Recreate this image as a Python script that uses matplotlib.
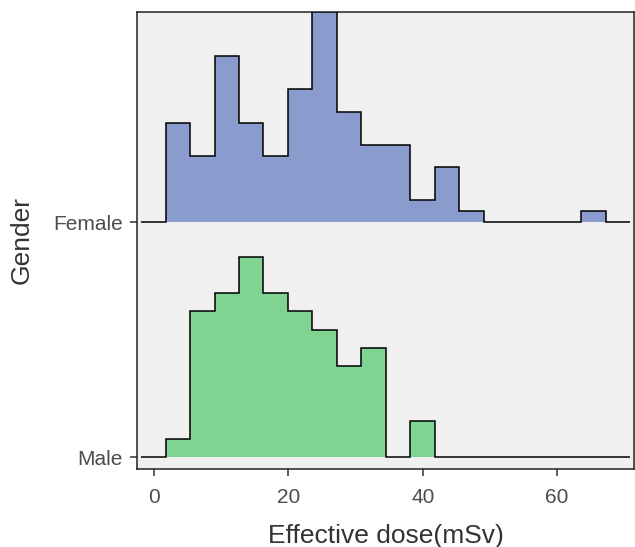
import numpy as np
import matplotlib
matplotlib.use('Agg')
import matplotlib.pyplot as plt

plt.rcParams['font.family'] = ['Liberation Sans', 'DejaVu Sans']

# bin edges of the histogram (mSv)
edges = np.linspace(-1.94, 70.9, 21)

# counts per bin
female_counts = [0, 9, 6, 15, 9, 6, 12, 19, 10, 7, 7, 2, 5, 1, 0, 0, 0, 0, 1, 0]
male_counts = [0, 1, 8, 9, 11, 9, 8, 7, 5, 6, 0, 2, 0, 0, 0, 0, 0, 0, 0, 0]

groups = ['Male', 'Female']
fills = ['#80D492', '#8A9BCD']
scale = 18.65   # density -> ridge height

fig = plt.figure(figsize=(6.35, 5.47), dpi=100)
ax = fig.add_axes([0.2153, 0.1431, 0.7836, 0.835])
ax.set_facecolor('#F0F0F0')

for i, (counts, col) in enumerate(zip([male_counts, female_counts], fills)):
    c = np.array(counts, dtype=float)
    dens = c / (c.sum() * (edges[1] - edges[0]))
    h = dens * scale
    base = i + 1
    ax.stairs(h + base, edges, baseline=base, fill=True, color=col, lw=0, zorder=2 + i * 2)
    ax.stairs(h + base, edges, baseline=None, color='black', lw=1.1, zorder=3 + i * 2)

ax.set_xlim(-2.6, 71.5)
ax.set_ylim(0.952, 2.893)
ax.set_xticks([0, 20, 40, 60])
ax.set_yticks([1, 2])
ax.set_yticklabels(groups)
ax.tick_params(labelsize=15, colors='#4D4D4D', length=5, width=1.1, pad=5)
ax.tick_params(axis='x', pad=9)
ax.tick_params(axis='both', color='#333333')
for s in ax.spines.values():
    s.set_linewidth(1.1)
    s.set_color('#222222')

ax.set_xlabel('Effective dose(mSv)', fontsize=19, color='#333333', labelpad=12)
ax.set_ylabel('Gender', fontsize=19, color='#333333', labelpad=14)

fig.savefig('out.png', dpi=100)
